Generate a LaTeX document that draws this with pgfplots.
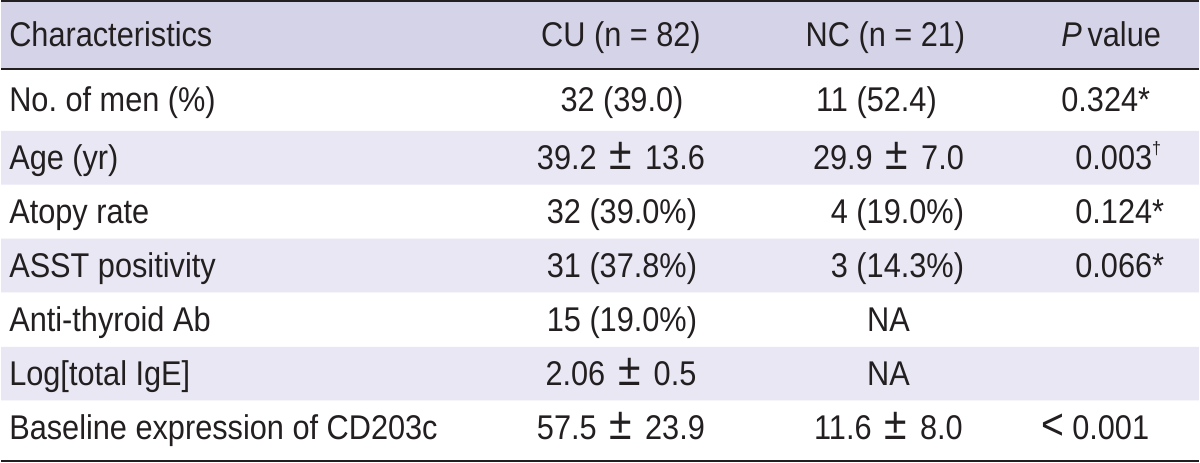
\documentclass[border=0pt]{standalone}
\usepackage{pgfplots}
\pgfplotsset{compat=1.18}
\usepackage{fontspec}
\setmainfont[FakeStretch=0.895]{Liberation Sans}
\frenchspacing
\definecolor{hdr}{RGB}{212,211,232}
\definecolor{stripe}{RGB}{232,231,243}
\definecolor{ink}{RGB}{35,31,32}
\newcommand{\PM}{\hspace{13bp}{\fontsize{46}{46}\selectfont ±}\hspace{13bp}}
\begin{document}
\begin{tikzpicture}
\begin{axis}[
  width=1200bp, height=463bp, scale only axis,
  xmin=0, xmax=1200, ymin=0, ymax=463, y dir=reverse,
  hide axis, clip=false,
]
% background and bands
\addplot[fill=white, draw=none] coordinates {(0,0) (1200,0) (1200,463) (0,463) (0,0)};
\addplot[fill=hdr, draw=none] coordinates {(0,2) (1200,2) (1200,68) (0,68) (0,2)};
\addplot[fill=stripe, draw=none] coordinates {(0,131) (1200,131) (1200,185) (0,185) (0,131)};
\addplot[fill=stripe, draw=none] coordinates {(0,239) (1200,239) (1200,293) (0,293) (0,239)};
\addplot[fill=stripe, draw=none] coordinates {(0,347.5) (1200,347.5) (1200,401) (0,401) (0,347.5)};
% rules
\addplot[draw=ink, line width=2.2bp] coordinates {(0,1.1) (1200,1.1)};
\addplot[draw=ink, line width=2bp] coordinates {(0,69) (1200,69)};
\addplot[draw=ink, line width=2.2bp] coordinates {(0,461.5) (1200,461.5)};
% text
\begin{scope}[every node/.style={inner sep=0pt, text=ink, font=\fontsize{34.5}{38}\selectfont}]
% header
\node[anchor=base west] at (axis cs:8,46.7) {Characteristics};
\node[anchor=base] at (axis cs:621,46.7) {CU (n = 82)};
\node[anchor=base] at (axis cs:886,46.7) {NC (n = 21)};
\node[anchor=base west] at (axis cs:1062,46.7) {\textit{P}\,value};
% column 1
\node[anchor=base west] at (axis cs:8,111.7) {No. of men (\%)};
\node[anchor=base west] at (axis cs:8,170) {Age (yr)};
\node[anchor=base west] at (axis cs:8,224) {Atopy rate};
\node[anchor=base west] at (axis cs:8,278) {ASST positivity};
\node[anchor=base west] at (axis cs:8,332) {Anti-thyroid Ab};
\node[anchor=base west] at (axis cs:8,386) {Log[total IgE]};
\node[anchor=base west] at (axis cs:8,440) {Baseline expression of CD203c};
% CU column
\node[anchor=base] at (axis cs:622,111.7) {32 (39.0)};
\node[anchor=base] at (axis cs:621,170) {39.2\PM13.6};
\node[anchor=base] at (axis cs:622,224) {32 (39.0\%)};
\node[anchor=base] at (axis cs:622,278) {31 (37.8\%)};
\node[anchor=base] at (axis cs:622,332) {15 (19.0\%)};
\node[anchor=base] at (axis cs:621,386) {2.06\PM0.5};
\node[anchor=base] at (axis cs:621,440) {57.5\PM23.9};
% NC column
\node[anchor=base] at (axis cs:877,111.7) {11 (52.4)};
\node[anchor=base] at (axis cs:889,170) {29.9\PM7.0};
\node[anchor=base] at (axis cs:898,224) {4 (19.0\%)};
\node[anchor=base] at (axis cs:898,278) {3 (14.3\%)};
\node[anchor=base] at (axis cs:889,332) {NA};
\node[anchor=base] at (axis cs:889,386) {NA};
\node[anchor=base] at (axis cs:889,440) {11.6\PM8.0};
% P column
\node[anchor=base west] at (axis cs:1062,111.7) {0.324*};
\node[anchor=base west] at (axis cs:1076,170) {0.003\raisebox{0.45em}{\fontsize{18}{18}\selectfont †}};
\node[anchor=base west] at (axis cs:1076,224) {0.124*};
\node[anchor=base west] at (axis cs:1076,278) {0.066*};
\node[anchor=base west] at (axis cs:1042,440) {{\fontsize{44}{44}\selectfont <}\hspace{8bp}0.001};
\end{scope}
\end{axis}
\end{tikzpicture}
\end{document}
